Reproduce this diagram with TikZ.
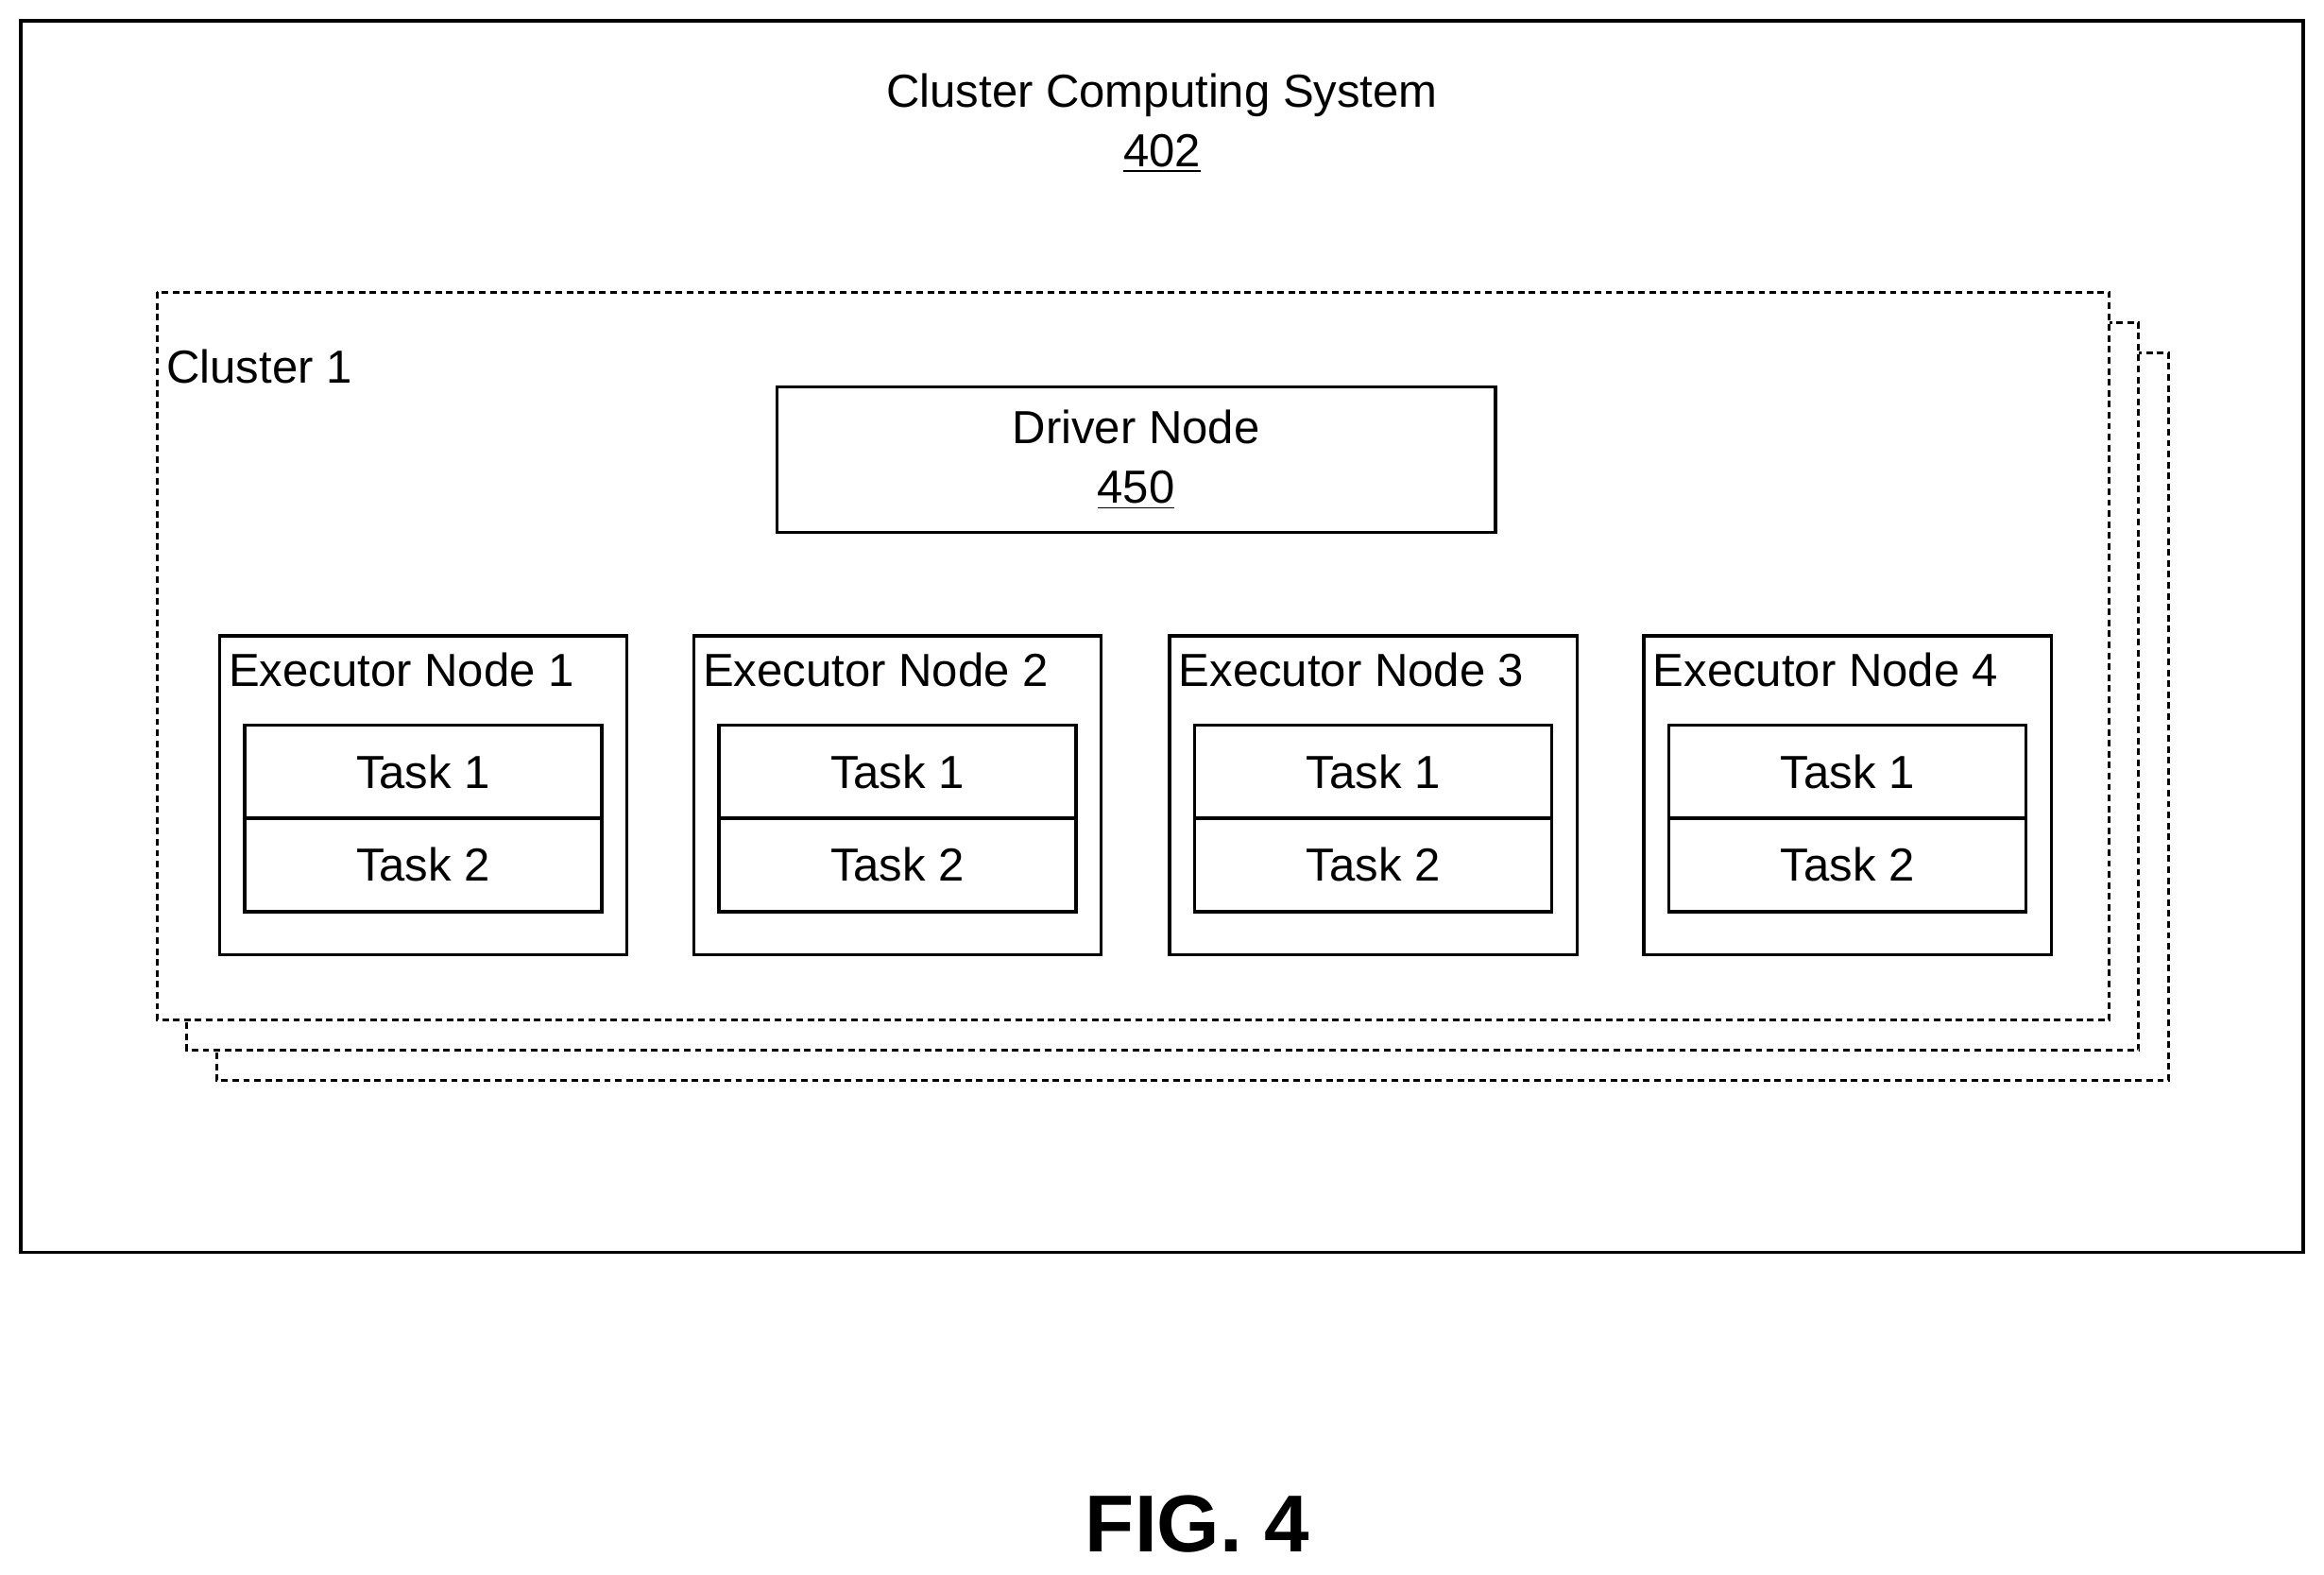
\documentclass[tikz,border=0pt]{standalone}
\usepackage{fontspec}
\setmainfont{Liberation Sans}
\usetikzlibrary{positioning}
\tikzset
{
	my box/.style={draw,line width=1.2pt,fill=white,inner sep=0pt},
	my cluster/.style={draw,line width=1.1pt,fill=white,dash pattern=on 2.5pt off 1.7pt},
	my text/.style={font=\fontsize{17.8}{21}\selectfont,inner sep=0pt}
}

\begin{document}
\begin{tikzpicture}[x=0.02cm,y=-0.02cm]
		\useasboundingbox (0,0) rectangle (1568,1062);
		% outer system
		\draw[line width=1.2pt] (14,14) rectangle (1554,845);
		\node[my text,align=center] (sys) at (784,83) {Cluster Computing System\\[2pt]\underline{402}};
		% stacked clusters
		\foreach\k in {2,1,0}
		\draw[my cluster] (106+20*\k,197+20.5*\k) rectangle (1423+20*\k,688+20.5*\k);
		\node[my text,anchor=west] (cl) at (112,247) {Cluster 1};
		% driver
		\node[my box,minimum width=9.7cm,minimum height=1.96cm] (driver) at (766.5,310) {};
		\node[my text,align=center] at (driver) {Driver Node\\[2pt]\underline{450}};
		% executors and tasks
		\foreach[count=\j]\x in {285.5,605.5,926.5,1246.5}
		{
			\node[my box,minimum width=5.5cm,minimum height=4.3cm] (ex\j) at (\x,536.5) {};
			\node[my text,anchor=west] at (\x-131.5,452) {Executor Node \j};
			\node[my box,minimum width=4.82cm,minimum height=1.26cm,my text] (t1\j) at (\x,520.5) {Task 1};
			\node[my box,minimum width=4.82cm,minimum height=1.26cm,my text] (t2\j) at (\x,583.5) {Task 2};
		}
		% caption
		\node[font=\fontsize{31}{36}\selectfont\bfseries,inner sep=0pt] (fig) at (808,1028) {FIG. 4};
	\end{tikzpicture}
\end{document}
